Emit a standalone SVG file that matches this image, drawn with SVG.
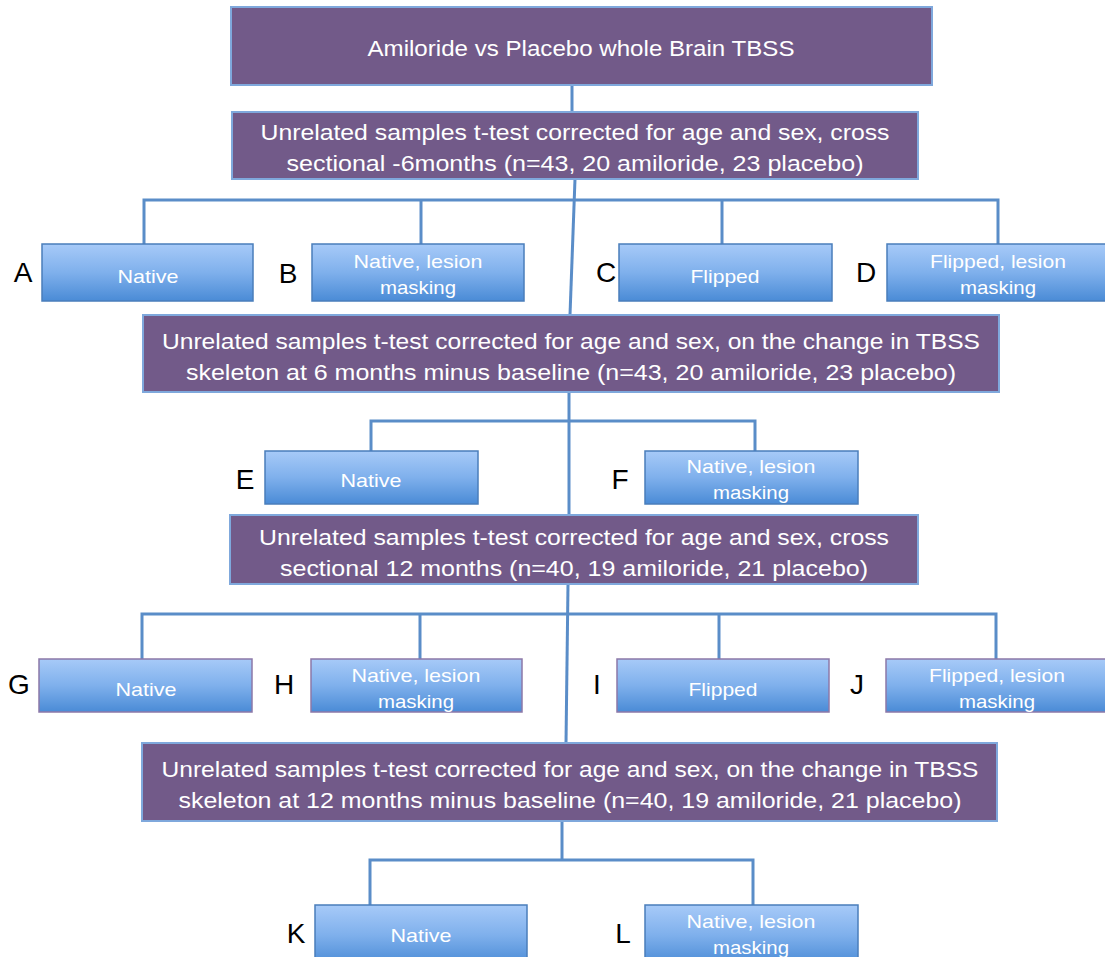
<svg xmlns="http://www.w3.org/2000/svg" width="1105" height="957" viewBox="0 0 1105 957">
<defs>
<linearGradient id="bg" x1="0" y1="0" x2="0" y2="1">
<stop offset="0" stop-color="#A7CAF8"/>
<stop offset="0.5" stop-color="#7FB0EC"/>
<stop offset="1" stop-color="#4A8BD6"/>
</linearGradient>
<style>
.main{fill:#725A89;stroke:#7FA8DC;stroke-width:2}
.sub{fill:url(#bg);stroke:#4A7EBB;stroke-width:1.5}
.sub2{fill:url(#bg);stroke:#8C78A8;stroke-width:1.5}
.mt{font-family:"Liberation Sans",Arial,sans-serif;font-size:22px;fill:#FFFFFF;text-anchor:middle}
.st{font-family:"Liberation Sans",Arial,sans-serif;font-size:19px;fill:#FFFFFF;text-anchor:middle}
.lb{font-family:"Liberation Sans",Arial,sans-serif;font-size:28px;fill:#000000;text-anchor:middle}
.cn{stroke:#5A8DC8;stroke-width:3;fill:none}
</style>
</defs>
<rect width="1105" height="957" fill="#FFFFFF"/>
<g id="connectors">
<line class="cn" x1="572" y1="85" x2="572" y2="112"/>
<line class="cn" x1="575" y1="179" x2="570" y2="315"/>
<polyline class="cn" points="144,245 144,200 998,200 998,245"/>
<line class="cn" x1="421" y1="200" x2="421" y2="245"/>
<line class="cn" x1="722" y1="200" x2="722" y2="245"/>
<line class="cn" x1="569" y1="392" x2="569" y2="515"/>
<polyline class="cn" points="371,451 371,421 755,421 755,451"/>
<line class="cn" x1="568" y1="584" x2="566" y2="743"/>
<polyline class="cn" points="142,659 142,614 996,614 996,659"/>
<line class="cn" x1="420" y1="614" x2="420" y2="659"/>
<line class="cn" x1="719" y1="614" x2="719" y2="659"/>
<line class="cn" x1="562" y1="821" x2="562" y2="860"/>
<polyline class="cn" points="370,905 370,860 753,860 753,905"/>
</g>
<g id="n-top">
<rect class="main" x="231" y="7" width="701" height="78"/>
<text class="mt" x="581" y="56" textLength="427" lengthAdjust="spacingAndGlyphs">Amiloride vs Placebo whole Brain TBSS</text>
</g>
<g id="n-cross6">
<rect class="main" x="232" y="112" width="686" height="67"/>
<text class="mt" x="575" y="140" textLength="629" lengthAdjust="spacingAndGlyphs">Unrelated samples t-test corrected for age and sex, cross</text>
<text class="mt" x="575" y="171" textLength="577" lengthAdjust="spacingAndGlyphs">sectional -6months (n=43, 20 amiloride, 23 placebo)</text>
</g>
<g id="n-A">
<text class="lb" x="23" y="282">A</text>
<rect class="sub" x="42" y="244" width="211" height="57"/>
<text class="st" x="148" y="283" textLength="61" lengthAdjust="spacingAndGlyphs">Native</text>
</g>
<g id="n-B">
<text class="lb" x="288" y="283">B</text>
<rect class="sub" x="312" y="244" width="212" height="57"/>
<text class="st" x="418" y="268" textLength="129" lengthAdjust="spacingAndGlyphs">Native, lesion</text>
<text class="st" x="418" y="294" textLength="76" lengthAdjust="spacingAndGlyphs">masking</text>
</g>
<g id="n-C">
<text class="lb" x="606" y="282">C</text>
<rect class="sub" x="619" y="244" width="213" height="57"/>
<text class="st" x="725" y="283" textLength="69" lengthAdjust="spacingAndGlyphs">Flipped</text>
</g>
<g id="n-D">
<text class="lb" x="866" y="282">D</text>
<rect class="sub" x="887" y="244" width="222" height="57"/>
<text class="st" x="998" y="268" textLength="136" lengthAdjust="spacingAndGlyphs">Flipped, lesion</text>
<text class="st" x="998" y="294" textLength="76" lengthAdjust="spacingAndGlyphs">masking</text>
</g>
<g id="n-change6">
<rect class="main" x="143" y="315" width="856" height="77"/>
<text class="mt" x="571" y="349" textLength="818" lengthAdjust="spacingAndGlyphs">Unrelated samples t-test corrected for age and sex, on the change in TBSS</text>
<text class="mt" x="571" y="380" textLength="770" lengthAdjust="spacingAndGlyphs">skeleton at 6 months minus baseline (n=43, 20 amiloride, 23 placebo)</text>
</g>
<g id="n-E">
<text class="lb" x="245" y="489">E</text>
<rect class="sub" x="265" y="451" width="213" height="53"/>
<text class="st" x="371" y="487" textLength="61" lengthAdjust="spacingAndGlyphs">Native</text>
</g>
<g id="n-F">
<text class="lb" x="620" y="489">F</text>
<rect class="sub" x="645" y="451" width="213" height="53"/>
<text class="st" x="751" y="473" textLength="129" lengthAdjust="spacingAndGlyphs">Native, lesion</text>
<text class="st" x="751" y="499" textLength="76" lengthAdjust="spacingAndGlyphs">masking</text>
</g>
<g id="n-cross12">
<rect class="main" x="230" y="515" width="688" height="69"/>
<text class="mt" x="574" y="545" textLength="630" lengthAdjust="spacingAndGlyphs">Unrelated samples t-test corrected for age and sex, cross</text>
<text class="mt" x="574" y="576" textLength="588" lengthAdjust="spacingAndGlyphs">sectional 12 months (n=40, 19 amiloride, 21 placebo)</text>
</g>
<g id="n-G">
<text class="lb" x="19" y="694">G</text>
<rect class="sub2" x="39" y="659" width="213" height="53"/>
<text class="st" x="146" y="696" textLength="61" lengthAdjust="spacingAndGlyphs">Native</text>
</g>
<g id="n-H">
<text class="lb" x="284" y="694">H</text>
<rect class="sub2" x="311" y="659" width="211" height="53"/>
<text class="st" x="416" y="682" textLength="129" lengthAdjust="spacingAndGlyphs">Native, lesion</text>
<text class="st" x="416" y="708" textLength="76" lengthAdjust="spacingAndGlyphs">masking</text>
</g>
<g id="n-I">
<text class="lb" x="597" y="694">I</text>
<rect class="sub2" x="617" y="659" width="212" height="53"/>
<text class="st" x="723" y="696" textLength="69" lengthAdjust="spacingAndGlyphs">Flipped</text>
</g>
<g id="n-J">
<text class="lb" x="857" y="694">J</text>
<rect class="sub2" x="886" y="659" width="223" height="53"/>
<text class="st" x="997" y="682" textLength="136" lengthAdjust="spacingAndGlyphs">Flipped, lesion</text>
<text class="st" x="997" y="708" textLength="76" lengthAdjust="spacingAndGlyphs">masking</text>
</g>
<g id="n-change12">
<rect class="main" x="142" y="743" width="855" height="78"/>
<text class="mt" x="570" y="777" textLength="817" lengthAdjust="spacingAndGlyphs">Unrelated samples t-test corrected for age and sex, on the change in TBSS</text>
<text class="mt" x="570" y="808" textLength="783" lengthAdjust="spacingAndGlyphs">skeleton at 12 months minus baseline (n=40, 19 amiloride, 21 placebo)</text>
</g>
<g id="n-K">
<text class="lb" x="296" y="943">K</text>
<rect class="sub" x="315" y="905" width="212" height="60"/>
<text class="st" x="421" y="942" textLength="61" lengthAdjust="spacingAndGlyphs">Native</text>
</g>
<g id="n-L">
<text class="lb" x="623" y="943">L</text>
<rect class="sub" x="645" y="905" width="213" height="60"/>
<text class="st" x="751" y="928" textLength="129" lengthAdjust="spacingAndGlyphs">Native, lesion</text>
<text class="st" x="751" y="954" textLength="76" lengthAdjust="spacingAndGlyphs">masking</text>
</g>
</svg>
